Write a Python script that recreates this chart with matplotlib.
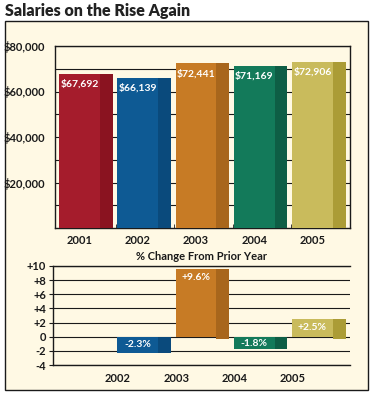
from matplotlib import pyplot as plt
from matplotlib.patches import Rectangle
import numpy as np

plt.rcParams['font.family'] = ['Lato', 'DejaVu Sans']
plt.rcParams['font.weight'] = 'bold'

# data
years = ['2001', '2002', '2003', '2004', '2005']
salaries = [67692, 66139, 72441, 71169, 72906]
salary_labels = ['$67,692', '$66,139', '$72,441', '$71,169', '$72,906']
change_years = ['2002', '2003', '2004', '2005']
changes = [-2.3, 9.6, -1.8, 2.5]
change_labels = ['-2.3%', '+9.6%', '-1.8%', '+2.5%']
salary_ticks = [20000, 40000, 60000, 80000]
salary_tick_labels = ['$20,000', '$40,000', '$60,000', '$80,000']
change_ticks = [-4, -2, 0, 2, 4, 6, 8, 10]
change_tick_labels = ['-4', '-2', '0', '+2', '+4', '+6', '+8', '+10']

front_colors = ['#a51c2c', '#0e5a94', '#c77b25', '#137a5a', '#c9bb5c']
side_colors = ['#8a1320', '#0a4a7c', '#a8661c', '#0e5e45', '#ab9c36']
cream = '#fff9e4'
ink = '#1a1a1a'

fig = plt.figure(figsize=(3.74, 3.95), dpi=100)
fig.patch.set_facecolor('white')

# outer panel (behind the axes)
fig.patches.append(Rectangle((5 / 374, 1 - 390 / 395), 363 / 374, 369 / 395,
                             transform=fig.transFigure, facecolor=cream,
                             edgecolor=ink, linewidth=1.0, zorder=-10))
fig.text(5 / 374, 1 - 11 / 395, 'Salaries on the Rise Again', fontsize=11.5,
         fontweight='heavy', color='#222222', ha='left', va='center')

x = np.arange(len(years))
front_w = 0.70
side_w = 0.22
off = -0.46

# ---- top chart
ax = fig.add_axes([55 / 374, 1 - 228 / 395, 295 / 374, 182 / 395])
ax.set_facecolor(cream)
ax.bar(x + off, salaries, width=front_w, align='edge', color=front_colors, zorder=3)
ax.bar(x + off + front_w, salaries, width=side_w, align='edge', color=side_colors, zorder=3)
for i in range(len(years)):
    ax.annotate(salary_labels[i], (x[i] + off + front_w / 2, salaries[i]),
                xytext=(0, -4), textcoords='offset points', ha='center', va='top',
                color='white', fontsize=7.5, fontweight='bold', zorder=4)
ax.set_xlim(-0.53, 4.534)
ax.set_ylim(0, 80000)
ax.set_yticks(salary_ticks)
ax.set_yticklabels(salary_tick_labels)
ax.set_yticks(np.arange(10000, 80000, 10000), minor=True)
ax.grid(axis='y', which='both', color=ink, linewidth=0.8, zorder=1)
ax.set_axisbelow(True)
ax.set_xticks(x + off + front_w / 2)
ax.set_xticklabels(years)
ax.set_xticks(x[:-1] + 0.52, minor=True)
ax.tick_params(axis='x', which='major', length=0, pad=5, labelsize=8, colors=ink)
ax.tick_params(axis='x', which='minor', length=3, direction='in', color=ink)
ax.tick_params(axis='y', which='both', length=0, pad=7, labelsize=8, colors=ink)
for s in ax.spines.values():
    s.set_color(ink)
    s.set_linewidth(1.0)

# ---- bottom chart
ax2 = fig.add_axes([53 / 374, 1 - 365 / 395, 297 / 374, 99 / 395])
ax2.set_facecolor(cream)
xc = x[1:]
ax2.bar(xc + off, changes, width=front_w, align='edge', color=front_colors[1:], zorder=3)
side_bottom = [-0.3 if v > 0 else 0 for v in changes]
side_height = [v - b for v, b in zip(changes, side_bottom)]
ax2.bar(xc + off + front_w, side_height, bottom=side_bottom, width=side_w, align='edge',
        color=side_colors[1:], zorder=3)
for i, v in enumerate(changes):
    ty = v - np.sign(v) * min(abs(v) / 2, 1.2)
    ax2.text(xc[i] + off + front_w / 2, ty, change_labels[i], ha='center', va='center',
             color='white', fontsize=7.5, fontweight='bold', zorder=4)
ax2.set_xlim(-0.564, 4.534)
ax2.set_ylim(-4, 10)
ax2.set_yticks(change_ticks)
ax2.set_yticklabels(change_tick_labels)
ax2.grid(axis='y', color=ink, linewidth=0.8, zorder=1)
ax2.set_axisbelow(True)
ax2.set_xticks(xc - 0.45)
ax2.set_xticklabels(change_years)
ax2.tick_params(axis='x', length=0, pad=6, labelsize=8, colors=ink)
ax2.tick_params(axis='y', length=3, pad=2, labelsize=8, colors=ink)
ax2.spines['right'].set_visible(False)
for s in ax2.spines.values():
    s.set_color(ink)
    s.set_linewidth(1.0)
ax2.set_title('% Change From Prior Year', fontsize=8, fontweight='bold', color=ink, pad=4)

fig.savefig('out.png', dpi=100, facecolor='white')
